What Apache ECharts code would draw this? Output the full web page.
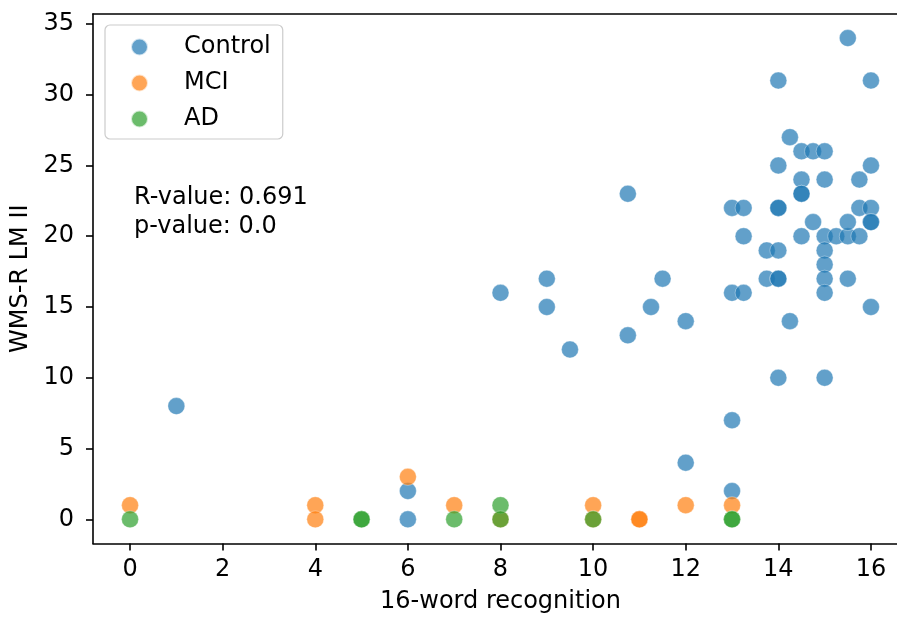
<!DOCTYPE html>
<html>
<head>
<meta charset="utf-8">
<script src="https://cdn.jsdelivr.net/npm/echarts@6/dist/echarts.min.js"></script>
<style>html,body{margin:0;padding:0;background:#fff}#c{width:897px;height:619px}</style>
</head>
<body>
<div id="c"></div>
<script>
const seriesNames = ['Control', 'MCI', 'AD'];
const controlX = [1, 6, 6, 8, 9, 9, 9.5, 10.75, 10.75, 11.25, 11.5, 12, 12, 13, 13.25, 13, 13.25, 13.25, 13, 13,
  13.75, 13.75, 14, 14, 14, 14, 14, 14, 14, 14, 14.25, 14.25, 14.5, 14.75, 15, 14.5, 14.5, 14.5, 14.5, 14.75,
  15, 15, 15, 15, 15, 15, 15, 15.25, 15.5, 15.5, 15.5, 15.5, 15.75, 15.75, 15.75, 16, 16, 16, 16, 16, 16];
const controlY = [8, 2, 0, 16, 17, 15, 12, 23, 13, 15, 17, 14, 4, 22, 22, 16, 16, 20, 7, 2,
  19, 17, 31, 25, 22, 22, 19, 17, 17, 10, 27, 14, 26, 26, 26, 24, 23, 23, 20, 21,
  24, 20, 19, 18, 17, 16, 10, 20, 20, 21, 17, 34, 24, 22, 20, 31, 25, 22, 21, 21, 15];
const mciX = [0, 4, 4, 6, 7, 8, 10, 10, 11, 11, 12, 13];
const mciY = [1, 1, 0, 3, 1, 0, 1, 0, 0, 0, 1, 1];
const adX = [0, 5, 5, 7, 8, 8, 10, 13, 13];
const adY = [0, 0, 0, 0, 1, 0, 0, 0, 0];
const xTicks = [0, 2, 4, 6, 8, 10, 12, 14, 16];
const yTicks = [0, 5, 10, 15, 20, 25, 30, 35];
const colors = ['#1f77b4', '#ff7f0e', '#2ca02c'];
const statLines = ['R-value: 0.691', 'p-value: 0.0'];

const groups = [[controlX, controlY], [mciX, mciY], [adX, adY]];
const FONT = 'DejaVu Sans';
const FS = 24;
const spine = {color: '#000', width: 1.6};

const chart = echarts.init(document.getElementById('c'), null, {renderer: 'canvas'});
chart.setOption({
  animation: false,
  backgroundColor: '#ffffff',
  textStyle: {fontFamily: FONT},
  grid: {left: 93, top: 14, width: 815, height: 529.4, show: false, containLabel: false, outerBoundsMode: 'none'},
  xAxis: [{
    type: 'value', min: -0.8, max: 16.8,
    name: '16-word recognition', nameLocation: 'middle', nameGap: 46,
    nameTextStyle: {fontSize: FS, color: '#000', fontFamily: FONT},
    axisLine: {show: true, onZero: false, lineStyle: spine},
    axisTick: {show: true, length: 7, lineStyle: spine, customValues: xTicks},
    axisLabel: {fontSize: FS, color: '#000', margin: 14, fontFamily: FONT, customValues: xTicks},
    splitLine: {show: false}
  }, {
    type: 'value', position: 'top', min: -0.8, max: 16.8,
    axisLine: {show: true, onZero: false, lineStyle: spine},
    axisTick: {show: false}, axisLabel: {show: false}, splitLine: {show: false}
  }],
  yAxis: {
    type: 'value', min: -1.7, max: 35.7,
    name: 'WMS-R LM II', nameLocation: 'middle', nameGap: 53, nameRotate: 90,
    nameTextStyle: {fontSize: FS, color: '#000', fontFamily: FONT},
    axisLine: {show: true, onZero: false, lineStyle: spine},
    axisTick: {show: true, length: 7, lineStyle: spine, customValues: yTicks},
    axisLabel: {fontSize: FS, color: '#000', margin: 19, fontFamily: FONT, customValues: yTicks},
    splitLine: {show: false}
  },
  legend: {
    orient: 'vertical', left: 105, top: 25,
    data: seriesNames,
    icon: 'circle', itemWidth: 17, itemHeight: 17, itemGap: 12,
    padding: [10, 12, 8, 25],
    backgroundColor: 'rgba(255,255,255,0.8)', borderColor: '#cccccc', borderWidth: 1.2, borderRadius: 5,
    textStyle: {fontSize: FS, color: '#000', fontFamily: FONT, lineHeight: 24, padding: [0, 0, 0, 31]},
    selectedMode: false
  },
  graphic: [{
    type: 'text', left: 134, top: 184,
    style: {text: statLines.join('\n'), fontSize: FS, lineHeight: 28.5, fill: '#000', fontFamily: FONT}
  }],
  series: groups.map((g, i) => ({
    name: seriesNames[i], type: 'scatter', symbol: 'circle', symbolSize: 17,
    data: g[0].map((x, j) => [x, g[1][j]]),
    itemStyle: {color: colors[i], opacity: 0.7, borderColor: '#ffffff', borderWidth: 0.5},
    emphasis: {disabled: true}, z: 2 + i
  }))
});
</script>
</body>
</html>
